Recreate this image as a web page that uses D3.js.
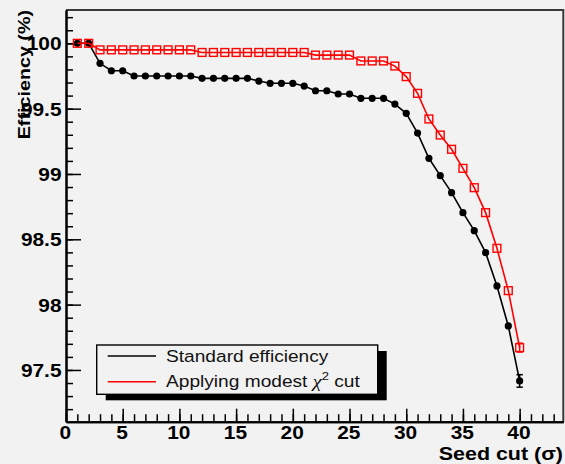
<!DOCTYPE html>
<html>
<head>
<meta charset="utf-8">
<script src="https://cdn.jsdelivr.net/npm/d3@7"></script>
<style>
  html, body { margin: 0; padding: 0; background: #f2f2f2; }
  svg { display: block; }
</style>
</head>
<body>
<svg id="chart" width="565" height="464"></svg>
<script>
// Seed cut values (in sigma)
const seedCut = [1, 2, 3, 4, 5, 6, 7, 8, 9, 10, 11, 12, 13, 14, 15, 16, 17, 18, 19, 20,
                 21, 22, 23, 24, 25, 26, 27, 28, 29, 30, 31, 32, 33, 34, 35, 36, 37, 38, 39, 40];

// Standard efficiency (%)
const effStandard = [100, 100, 99.847, 99.79, 99.79, 99.75, 99.75, 99.75, 99.75, 99.75,
                     99.75, 99.732, 99.732, 99.732, 99.732, 99.732, 99.711, 99.694, 99.694, 99.694,
                     99.673, 99.637, 99.637, 99.612, 99.612, 99.579, 99.579, 99.579, 99.535, 99.464,
                     99.313, 99.12, 98.987, 98.857, 98.704, 98.566, 98.398, 98.143, 97.837, 97.416];

// Efficiency after a modest chi2 cut (%)
const effChi2 = [100, 100, 99.95, 99.95, 99.95, 99.95, 99.95, 99.95, 99.95, 99.95,
                 99.95, 99.93, 99.93, 99.93, 99.93, 99.93, 99.93, 99.93, 99.93, 99.93,
                 99.93, 99.91, 99.91, 99.91, 99.91, 99.865, 99.865, 99.865, 99.826, 99.745,
                 99.617, 99.421, 99.298, 99.189, 99.043, 98.895, 98.704, 98.431, 98.107, 97.671];

// Statistical errors large enough to show outside the markers
const errStandard = [0, 0, 0, 0, 0, 0, 0, 0, 0, 0, 0, 0, 0, 0, 0, 0, 0, 0, 0, 0,
                     0, 0, 0, 0, 0, 0, 0, 0, 0, 0, 0, 0, 0, 0, 0, 0, 0, 0, 0, 0.048];
const errChi2 = [0, 0, 0, 0, 0, 0, 0, 0, 0, 0, 0, 0, 0, 0, 0, 0, 0, 0, 0, 0,
                 0, 0, 0, 0, 0, 0, 0, 0, 0, 0, 0, 0, 0, 0, 0, 0, 0, 0, 0, 0.034];

// Axis ticks and labels
const xTicks = [0, 5, 10, 15, 20, 25, 30, 35, 40];
const xTickLabels = ["0", "5", "10", "15", "20", "25", "30", "35", "40"];
const yTicks = [97.5, 98, 98.5, 99, 99.5, 100];
const yTickLabels = ["97.5", "98", "98.5", "99", "99.5", "100"];

const legendLabels = ["Standard efficiency", "Applying modest "];
const xTitle = "Seed cut (\u03C3)";
const yTitle = "Efficiency (%)";

// ---------------------------------------------------------------------------
const W = 565, H = 464;
const SX = 1.16;                       // horizontal stretch of the lettering
const FONT = "'Liberation Sans', Arial, Helvetica, sans-serif";

const svg = d3.select("#chart");
svg.append("rect").attr("width", W).attr("height", H).attr("fill", "#f2f2f2");

const x = d3.scaleLinear().domain([0, 43.85]).range([66, 563.3]);
const y = d3.scaleLinear().domain([97.104, 100.255]).range([421.7, 10]);

// frame (top and right)
svg.append("path")
  .attr("d", `M${x.range()[0]},${y.range()[1]}H${x.range()[1]}V${y.range()[0]}`)
  .attr("fill", "none").attr("stroke", "#3a3a3a").attr("stroke-width", 2);

function styleAxis(g) {
  g.select(".domain").attr("stroke", "#000").attr("stroke-width", 2);
  g.selectAll(".tick line").attr("stroke", "#000").attr("stroke-width", 1.5);
}

// y axis: minor + major ticks, pointing into the frame
svg.append("g").attr("transform", `translate(${x.range()[0]},0)`)
  .call(d3.axisLeft(y).tickValues(y.ticks(30)).tickSize(-7).tickSizeOuter(0).tickFormat(""))
  .call(styleAxis);
const yAxisG = svg.append("g").attr("transform", `translate(${x.range()[0]},0)`)
  .call(d3.axisLeft(y).tickValues(yTicks).tickSize(-15).tickSizeOuter(0)
        .tickFormat((d, i) => yTickLabels[i]))
  .call(styleAxis);
yAxisG.selectAll(".tick text")
  .attr("font-family", FONT).attr("font-weight", "bold").attr("font-size", 18)
  .attr("fill", "#000").attr("text-anchor", "end")
  .attr("x", -4.5 / SX).attr("dy", "0.36em")
  .attr("transform", `scale(${SX},1)`);

// x axis
svg.append("g").attr("transform", `translate(0,${y.range()[0]})`)
  .call(d3.axisBottom(x).tickValues(x.ticks(44)).tickSize(-7.5).tickSizeOuter(0).tickFormat(""))
  .call(styleAxis);
const xAxisG = svg.append("g").attr("transform", `translate(0,${y.range()[0]})`)
  .call(d3.axisBottom(x).tickValues(xTicks).tickSize(-13).tickSizeOuter(0)
        .tickFormat((d, i) => xTickLabels[i]))
  .call(styleAxis);
xAxisG.selectAll(".tick text")
  .attr("font-family", FONT).attr("font-weight", "bold").attr("font-size", 18)
  .attr("fill", "#000").attr("text-anchor", "middle")
  .attr("x", -1).attr("y", 5).attr("dy", "0.71em")
  .attr("transform", `scale(${SX},1)`);

// axis titles
svg.append("text")
  .attr("transform", `translate(563,460) scale(${SX},1)`)
  .attr("text-anchor", "end")
  .attr("font-family", FONT).attr("font-weight", "bold").attr("font-size", 18.5)
  .text(xTitle);
svg.append("text")
  .attr("transform", `translate(30,10) rotate(-90) scale(${SX},1)`)
  .attr("text-anchor", "end")
  .attr("font-family", FONT).attr("font-weight", "bold").attr("font-size", 17)
  .text(yTitle);

// ---------------------------------------------------------------------------
// data series
const stdData = seedCut.map((s, i) => ({ s, v: effStandard[i], e: errStandard[i] }));
const chiData = seedCut.map((s, i) => ({ s, v: effChi2[i], e: errChi2[i] }));
const line = d3.line().x(d => x(d.s)).y(d => y(d.v));

function errorBars(data, color) {
  const g = svg.append("g").attr("stroke", color).attr("stroke-width", 1.5);
  const withErr = data.filter(d => d.e > 0);
  g.selectAll("line.bar").data(withErr).join("line").attr("class", "bar")
    .attr("x1", d => x(d.s)).attr("x2", d => x(d.s))
    .attr("y1", d => y(d.v - d.e)).attr("y2", d => y(d.v + d.e));
  [-1, 1].forEach(k => {
    g.selectAll(`line.cap${k}`).data(withErr).join("line").attr("class", `cap${k}`)
      .attr("x1", d => x(d.s) - 3.2).attr("x2", d => x(d.s) + 3.2)
      .attr("y1", d => y(d.v + k * d.e)).attr("y2", d => y(d.v + k * d.e));
  });
}

// standard: black line, filled circles
errorBars(stdData, "#000");
svg.append("path").datum(stdData).attr("d", line)
  .attr("fill", "none").attr("stroke", "#000").attr("stroke-width", 1.6);
svg.append("g").selectAll("circle").data(stdData).join("circle")
  .attr("cx", d => x(d.s)).attr("cy", d => y(d.v)).attr("r", 3.6)
  .attr("fill", "#000");

// chi2 cut: red line, open squares
errorBars(chiData, "#ff0000");
svg.append("path").datum(chiData).attr("d", line)
  .attr("fill", "none").attr("stroke", "#ff0000").attr("stroke-width", 1.6);
svg.append("g").selectAll("rect").data(chiData).join("rect")
  .attr("x", d => x(d.s) - 3.9).attr("y", d => y(d.v) - 3.9)
  .attr("width", 7.8).attr("height", 7.8)
  .attr("fill", "none").attr("stroke", "#ff0000").attr("stroke-width", 1.4);

// ---------------------------------------------------------------------------
// legend
const lg = { x: 96.7, y: 345, w: 281, h: 49.3 };
svg.append("rect").attr("x", lg.x + 9).attr("y", lg.y + 6)
  .attr("width", lg.w).attr("height", lg.h).attr("fill", "#000");
svg.append("rect").attr("x", lg.x).attr("y", lg.y)
  .attr("width", lg.w).attr("height", lg.h)
  .attr("fill", "#f2f2f2").attr("stroke", "#000").attr("stroke-width", 1.4);

const legendColors = ["#000", "#ff0000"];
const rowY = [356, 381.7];
legendColors.forEach((c, i) => {
  svg.append("line").attr("x1", 107.7).attr("x2", 156)
    .attr("y1", rowY[i]).attr("y2", rowY[i])
    .attr("stroke", c).attr("stroke-width", 1.4);
});
const legendFont = 16.5;
svg.append("text")
  .attr("transform", `translate(166,${rowY[0] + 6.3}) scale(${SX},1)`)
  .attr("font-family", FONT).attr("font-size", legendFont).attr("fill", "#111")
  .text(legendLabels[0]);
const t2 = svg.append("text")
  .attr("transform", `translate(166,${rowY[1] + 5.6}) scale(${SX},1)`)
  .attr("font-family", FONT).attr("font-size", legendFont).attr("fill", "#111");
t2.append("tspan").text(legendLabels[1]);
t2.append("tspan").attr("font-family", "'Liberation Serif', 'DejaVu Serif', serif")
  .attr("font-style", "italic").attr("font-size", legendFont + 1).text("\u03C7");
t2.append("tspan").attr("font-size", legendFont * 0.68).attr("dy", -7).text("2");
t2.append("tspan").attr("dy", 7).text(" cut");
</script>
</body>
</html>
